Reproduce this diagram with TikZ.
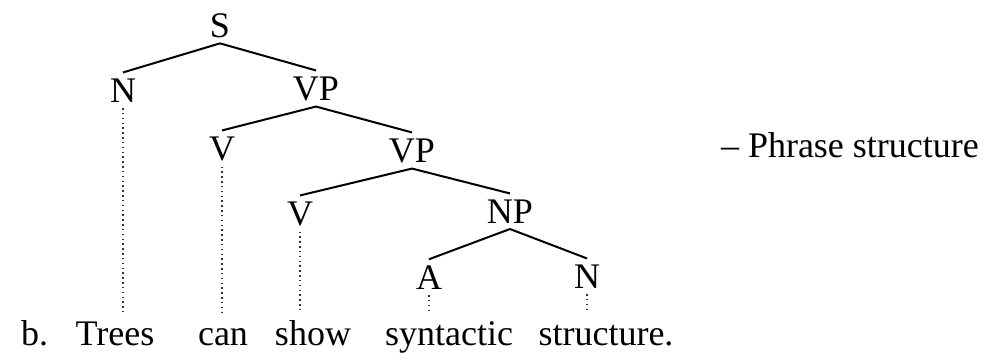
\documentclass[tikz,border=0pt]{standalone}
\usepackage{fontspec}
\setmainfont{Liberation Serif}
\usetikzlibrary{positioning}
\begin{document}
\begin{tikzpicture}[x=0.3pt, y=-0.3pt, draw=black, line width=0.6pt, font=\rmfamily\fontsize{10.8}{13}\selectfont]
			\tikzstyle{cat}=[anchor=base, inner sep=1.5pt]
			\tikzstyle{word}=[anchor=base, inner sep=1.5pt, text height=0.8em, text depth=0.2em]
			\tikzstyle{leaf}=[densely dotted, line width=0.45pt, draw=black!80]
			\useasboundingbox (0,0) rectangle (996,353);
			
			% categories
			\node[cat] (s) at (220,37) {S};
			\node[cat] (n1) at (123,102) {N};
			\node[cat] (vp1) at (316,100) {VP};
			\node[cat] (v1) at (222,160) {V};
			\node[cat] (vp2) at (412,162) {VP};
			\node[cat] (v2) at (300,225) {V};
			\node[cat] (np) at (510,223) {NP};
			\node[cat] (a) at (429,289) {A};
			\node[cat] (n2) at (587,288) {N};
			
			% words
			\node[word, anchor=base west] (ex) at (15,345) {b.};
			\node[word] (trees) at (115,345) {Trees};
			\node[word] (can) at (223,345) {can};
			\node[word] (show) at (313,345) {show};
			\node[word] (syn) at (449,345) {syntactic};
			\node[word] (str) at (606,345) {structure.};
			
			\node[anchor=base west, inner sep=0pt] (lab) at (720,157) {-- Phrase structure};
			
			\draw (s.south) -- (n1.north);
			\draw (s.south) -- (vp1.north);
			\draw (vp1.south) -- (v1.north);
			\draw (vp1.south) -- (vp2.north);
			\draw (vp2.south) -- (v2.north);
			\draw (vp2.south) -- (np.north);
			\draw (np.south) -- (a.north);
			\draw (np.south) -- (n2.north);
			
			\draw[leaf] (n1.south) -- (n1 |- trees.north);
			\draw[leaf] (v1.south) -- (v1 |- can.north);
			\draw[leaf] (v2.south) -- (v2 |- show.north);
			\draw[leaf] (a.south) -- (a |- syn.north);
			\draw[leaf] (n2.south) -- (n2 |- str.north);
		\end{tikzpicture}
\end{document}
